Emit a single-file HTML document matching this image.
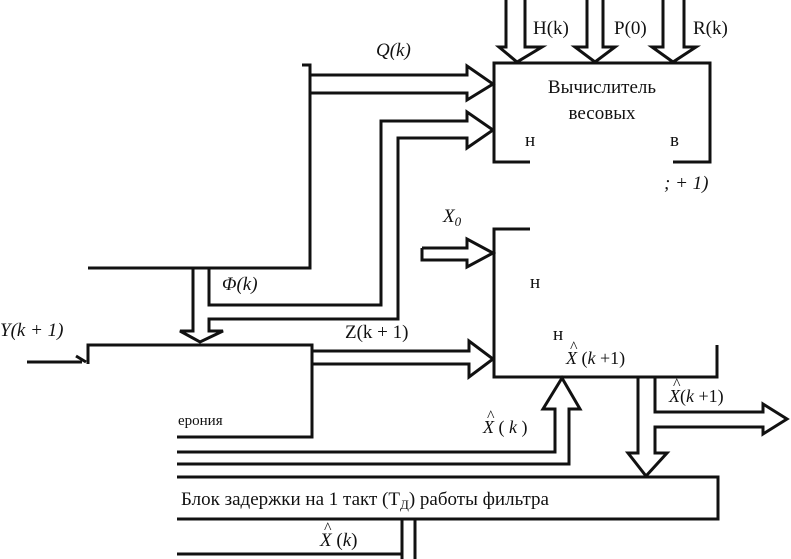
<!DOCTYPE html>
<html><head><meta charset="utf-8"><style>
html,body{margin:0;padding:0;background:#fff;}
svg{display:block;}
text{font-family:"Liberation Serif",serif;fill:#111;}
.i{font-style:italic;}
</style></head><body>
<svg width="791" height="559" viewBox="0 0 791 559" xmlns="http://www.w3.org/2000/svg">
<g fill="none" stroke="#111" stroke-width="3" stroke-linejoin="miter">
<!-- top box -->
<polyline points="530,162 494,162 494,63 710,63 710,162 673,162"/>
<!-- down arrows -->
<polyline points="506,0 506,47 499,47 517,62 542,47 525,47 525,0"/>
<polyline points="587,0 587,47 575,47 595,62 615,47 603,47 603,0"/>
<polyline points="663,0 663,47 652,47 673,62 696,47 684,47 684,0"/>
<!-- Q bracket and arrow -->
<polyline points="302,65 310,65 310,268 302,268"/>
<line x1="88" y1="268" x2="310" y2="268"/>
<polyline points="310,75 467,75 467,66 493,84 467,100 467,93 310,93"/>
<!-- second arrow into top box -->
<polyline points="209,268 209,305 381,305 381,121 467,121 467,112 493,130 467,148 467,138 398,138 398,319 209,319 209,331 223,331 200,342 180,331 193,331 193,268"/>
<!-- middle box -->
<polyline points="530,229 494,229 494,377 717,377 717,345"/>
<!-- X0 arrow -->
<polyline points="422,248 467,248 467,239 493,253 467,267 467,260 422,260 422,248"/>
<!-- Z arrow -->
<polyline points="312,351 469,351 469,341 493,359 469,377 469,364 312,364"/>
<!-- bottom-left box -->
<polyline points="88,364 88,345 312,345 312,437 177,437"/>
<!-- Y arrow -->
<line x1="27" y1="362" x2="82" y2="362"/>
<polyline points="76,356 86,362" />
<!-- Xhat(k) up arrow -->
<polyline points="177,452 555,452 555,409 543,409 562,378 580,409 569,409 569,464 177,464"/>
<!-- delay block -->
<polyline points="177,477 718,477 718,519 177,519"/>
<line x1="177" y1="554" x2="402" y2="554"/>
<line x1="402" y1="519" x2="402" y2="559"/>
<line x1="415" y1="519" x2="415" y2="559"/>
<!-- down arrow and output arrow -->
<polyline points="638,377 638,453 628,453 646,476 667,453 655,453 655,427 763,427 763,434 787,419 763,404 763,412 655,412 655,377"/>
</g>
<!-- labels -->
<text x="533" y="34" font-size="19">H(k)</text>
<text x="614" y="34" font-size="19">P(0)</text>
<text x="693" y="34" font-size="19">R(k)</text>
<text x="376" y="56" font-size="19" class="i">Q(k)</text>
<text x="602" y="93" font-size="19" text-anchor="middle">Вычислитель</text>
<text x="602" y="119" font-size="19" text-anchor="middle">весовых</text>
<text x="525" y="146" font-size="19">н</text>
<text x="670" y="146" font-size="19">в</text>
<text x="664" y="189" font-size="19" class="i">; + 1)</text>
<text x="443" y="222" font-size="19" class="i">X<tspan font-size="13" dy="4">0</tspan></text>
<text x="530" y="288" font-size="19">н</text>
<text x="553" y="340" font-size="19">н</text>
<text x="222" y="290" font-size="19" class="i">Φ(k)</text>
<text x="345" y="338" font-size="19">Z(k + 1)</text>
<text x="0" y="336" font-size="19" class="i">Y(k + 1)</text>
<text x="566" y="364" font-size="18"><tspan class="i">X</tspan>  (<tspan class="i">k</tspan> +1)</text>
<text x="570" y="352" font-size="16">^</text>
<text x="669" y="402" font-size="18"><tspan class="i">X</tspan>(<tspan class="i">k</tspan> +1)</text>
<text x="673" y="389" font-size="16">^</text>
<text x="483" y="433" font-size="18"><tspan class="i">X</tspan> ( <tspan class="i">k</tspan> )</text>
<text x="487" y="421" font-size="16">^</text>
<text x="181" y="505" font-size="19">Блок задержки на 1 такт (Т<tspan font-size="13" dy="4">Д</tspan><tspan dy="-4">) работы фильтра</tspan></text>
<text x="320" y="546" font-size="19"><tspan class="i">X</tspan> (<tspan class="i">k</tspan>)</text>
<text x="324" y="533" font-size="16">^</text>
<text x="178" y="425" font-size="15" fill="#555">ерония</text>
</svg>
</body></html>
